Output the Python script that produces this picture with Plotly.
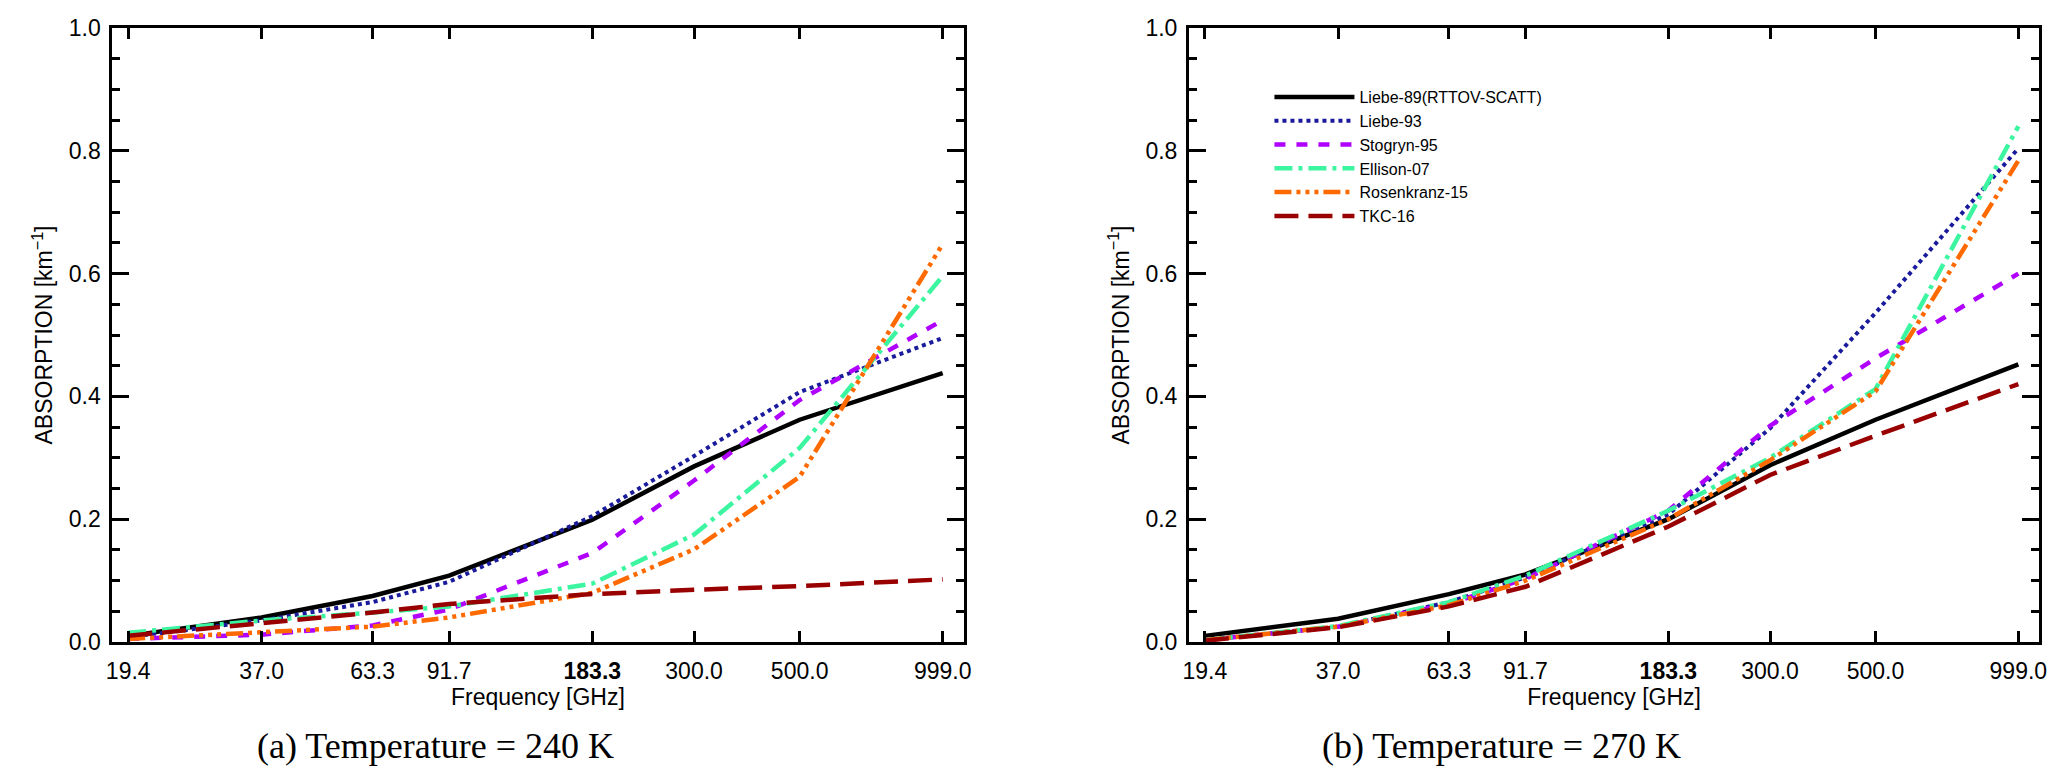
import plotly.graph_objects as go
from plotly.subplots import make_subplots

# frequencies (GHz) and tick labels
freqs = [19.4, 37.0, 63.3, 91.7, 183.3, 300.0, 500.0, 999.0]
tick_text = ["19.4", "37.0", "63.3", "91.7", "<b>183.3</b>", "300.0", "500.0", "999.0"]

models = ["Liebe-89(RTTOV-SCATT)", "Liebe-93", "Stogryn-95", "Ellison-07", "Rosenkranz-15", "TKC-16"]

# absorption [km-1] at 240 K
liebe89_240 = [0.010, 0.040, 0.075, 0.108, 0.199, 0.286, 0.362, 0.438]
liebe93_240 = [0.008, 0.035, 0.065, 0.098, 0.205, 0.303, 0.407, 0.495]
stogryn95_240 = [0.005, 0.012, 0.027, 0.053, 0.145, 0.263, 0.394, 0.524]
ellison07_240 = [0.015, 0.035, 0.048, 0.058, 0.095, 0.175, 0.316, 0.596]
rosenkranz15_240 = [0.005, 0.015, 0.025, 0.040, 0.080, 0.151, 0.269, 0.648]
tkc16_240 = [0.010, 0.030, 0.048, 0.062, 0.078, 0.085, 0.091, 0.102]

# absorption [km-1] at 270 K
liebe89_270 = [0.010, 0.038, 0.078, 0.110, 0.200, 0.288, 0.362, 0.452]
liebe93_270 = [0.003, 0.025, 0.065, 0.105, 0.208, 0.348, 0.536, 0.804]
stogryn95_270 = [0.003, 0.025, 0.062, 0.103, 0.214, 0.352, 0.462, 0.600]
ellison07_270 = [0.003, 0.026, 0.065, 0.108, 0.214, 0.300, 0.412, 0.840]
rosenkranz15_270 = [0.003, 0.025, 0.060, 0.100, 0.200, 0.296, 0.408, 0.784]
tkc16_270 = [0.002, 0.024, 0.058, 0.090, 0.188, 0.272, 0.336, 0.420]

data_240 = [liebe89_240, liebe93_240, stogryn95_240, ellison07_240, rosenkranz15_240, tkc16_240]
data_270 = [liebe89_270, liebe93_270, stogryn95_270, ellison07_270, rosenkranz15_270, tkc16_270]

colors = ["#000000", "#1a1a9c", "#b000ff", "#3cf5a0", "#ff6a00", "#990000"]
dashes = ["solid", "4px,4px", "11px,11px", "18px,6px,4px,6px",
          "17px,5px,4px,5px,4px,5px,4px,5px", "24px,10px"]
widths = [4.5, 4, 4.5, 4.5, 4.5, 4.5]

W, H = 2067, 772
PLOT_TOP, PLOT_BOTTOM = 20, 634
PH = PLOT_BOTTOM - PLOT_TOP

fig = make_subplots(rows=1, cols=2)

for col, dataset in [(1, data_240), (2, data_270)]:
    for i, name in enumerate(models):
        fig.add_trace(go.Scatter(
            x=freqs, y=dataset[i], mode="lines", name=name,
            line=dict(color=colors[i], dash=dashes[i], width=widths[i]),
            showlegend=(col == 2)), row=1, col=col)

font = "Liberation Sans"
left_dom = [99 / W, 956 / W]
right_dom = [1183 / W, 2039 / W]
xrange = [1.2544, 3.0434]

axis_common = dict(showline=True, linecolor="black", linewidth=3, mirror="ticks",
                   ticks="inside", tickcolor="black", tickwidth=3,
                   showgrid=False, zeroline=False)

for ax, dom in [("xaxis", left_dom), ("xaxis2", right_dom)]:
    fig.layout[ax].update(domain=dom, type="log", range=xrange, tickvals=freqs,
                          ticktext=tick_text, ticklen=11, ticklabelstandoff=6,
                          tickfont=dict(family=font, size=23, color="black"),
                          title=dict(text="Frequency [GHz]", standoff=2,
                                     font=dict(family=font, size=23, color="black")),
                          **axis_common)
for ax in ["yaxis", "yaxis2"]:
    fig.layout[ax].update(range=[0, 1], tickvals=[0, 0.2, 0.4, 0.6, 0.8, 1.0],
                          ticktext=["0.0", "0.2", "0.4", "0.6", "0.8", "1.0"],
                          ticklen=17, ticklabelstandoff=4,
                          minor=dict(dtick=0.05, ticks="inside", ticklen=8,
                                     tickcolor="black", tickwidth=3),
                          tickfont=dict(family=font, size=23, color="black"),
                          title=dict(text="ABSORPTION [km<sup>\u22121</sup>]", standoff=10,
                                     font=dict(family=font, size=23, color="black")),
                          **axis_common)

captions = [("(a) Temperature = 240 K", 424), ("(b) Temperature = 270 K", 1498)]
for text, xc in captions:
    fig.add_annotation(text=text, xref="paper", yref="paper",
                       x=xc / W, y=-(738 - PLOT_BOTTOM) / PH,
                       xanchor="center", yanchor="middle", showarrow=False,
                       font=dict(family="Liberation Serif", size=36, color="black"))

fig.update_layout(
    width=W, height=H,
    margin=dict(l=0, r=0, t=PLOT_TOP, b=H - PLOT_BOTTOM),
    plot_bgcolor="white", paper_bgcolor="white",
    legend=dict(x=1264 / W, y=(PLOT_BOTTOM - 72) / PH, xanchor="left", yanchor="top",
                xref="paper", yref="paper",
                font=dict(family=font, size=16, color="black"),
                bgcolor="rgba(0,0,0,0)", itemwidth=80),
)

fig.write_html("out.html")
